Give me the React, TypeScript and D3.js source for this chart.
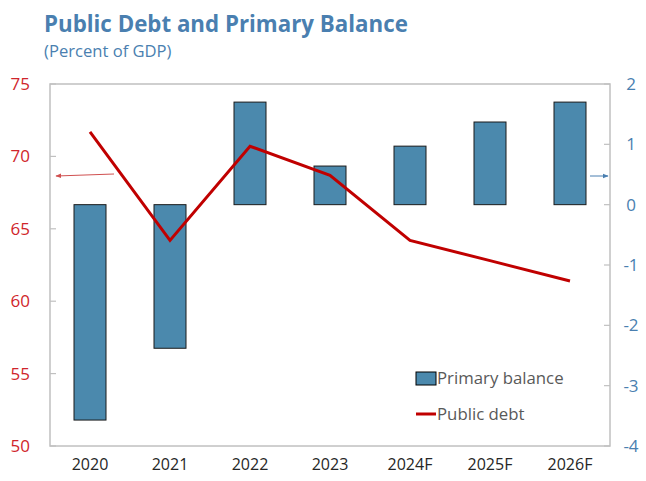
import React from "react";
import * as d3 from "d3";

const categories = ["2020", "2021", "2022", "2023", "2024F", "2025F", "2026F"];
const primaryBalance = [-3.57, -2.38, 1.7, 0.64, 0.97, 1.37, 1.7];
const publicDebt = [71.7, 64.2, 70.7, 68.7, 64.2, 62.8, 61.4];
const leftTicks = [50, 55, 60, 65, 70, 75];
const rightTicks = [-4, -3, -2, -1, 0, 1, 2];

const W = 646, H = 481;
const M = { left: 50, right: 610, top: 84, bottom: 446 };
const FONT = "'Open Sans', 'Noto Sans', sans-serif";
const BLUE = "#4a7fb0";
const RED = "#c00000";
const LABEL_RED = "#d0252b";

export default function App() {
  const x = d3.scaleBand<string>().domain(categories).range([M.left, M.right]).paddingInner(0).paddingOuter(0);
  const yL = d3.scaleLinear().domain([50, 75]).range([M.bottom, M.top]);
  const yR = d3.scaleLinear().domain([-4, 2]).range([M.bottom, M.top]);
  const barW = 32;
  const cx = (c: string) => (x(c) as number) + x.bandwidth() / 2;
  const line = d3.line<number>().x((_, i) => cx(categories[i])).y((d) => yL(d));

  return (
    <svg width={W} height={H} style={{ position: "absolute", left: 0, top: 0 }}>
      <rect width={W} height={H} fill="#fff" />
      <text x={44} y={32} fontFamily={FONT} fontWeight={700} fontSize={22.3} fill={BLUE}>
        Public Debt and Primary Balance
      </text>
      <text x={44} y={57} fontFamily={FONT} fontSize={16.6} fill={BLUE}>
        (Percent of GDP)
      </text>
      {/* frame */}
      <rect x={M.left} y={M.top} width={M.right - M.left} height={M.bottom - M.top} fill="none" stroke="#c0c0c0" strokeWidth={1.5} />
      {leftTicks.map((t) => (
        <g key={"l" + t}>
          <line x1={M.left} x2={M.left + 6} y1={yL(t)} y2={yL(t)} stroke="#c0c0c0" strokeWidth={1.2} />
          <text x={30} y={yL(t)} dy="0.35em" textAnchor="end" fontFamily={FONT} fontSize={17} fill={LABEL_RED}>{t}</text>
        </g>
      ))}
      {rightTicks.map((t) => (
        <g key={"r" + t}>
          <line x1={M.right - 6} x2={M.right} y1={yR(t)} y2={yR(t)} stroke="#c0c0c0" strokeWidth={1.2} />
          <text x={631} y={yR(t)} dy="0.35em" textAnchor="middle" fontFamily={FONT} fontSize={17} fill={BLUE}>{t}</text>
        </g>
      ))}
      {categories.map((c) => (
        <text key={"x" + c} x={cx(c)} y={470} textAnchor="middle" fontFamily={FONT} fontSize={16} fill="#262626">{c}</text>
      ))}
      {categories.map((c, i) => {
        const v = primaryBalance[i];
        const y0 = yR(0), y1 = yR(v);
        return (
          <rect key={"b" + c} x={cx(c) - barW / 2} y={Math.min(y0, y1)} width={barW} height={Math.abs(y1 - y0)}
            fill="#4b89ad" stroke="#1a1a1a" strokeWidth={1} />
        );
      })}
      <path d={line(publicDebt) as string} fill="none" stroke={RED} strokeWidth={3} />
      {/* axis arrows */}
      <defs>
        <marker id="arL" viewBox="0 0 10 10" refX={9} refY={5} markerWidth={6} markerHeight={6} orient="auto">
          <path d="M0,1 L10,5 L0,9 Z" fill="#d05050" />
        </marker>
        <marker id="arR" viewBox="0 0 10 10" refX={9} refY={5} markerWidth={6} markerHeight={6} orient="auto">
          <path d="M0,1 L10,5 L0,9 Z" fill={BLUE} />
        </marker>
      </defs>
      <line x1={114} y1={174} x2={56} y2={176} stroke="#d05050" strokeWidth={1} markerEnd="url(#arL)" />
      <line x1={590} y1={176} x2={608} y2={176} stroke={BLUE} strokeWidth={1} markerEnd="url(#arR)" />
      {/* legend */}
      <rect x={416} y={372} width={20} height={13} fill="#4b89ad" stroke="#000" strokeWidth={1} />
      <text x={437} y={384} fontFamily={FONT} fontSize={16.8} fill="#595959">Primary balance</text>
      <line x1={416} x2={436} y1={414} y2={414} stroke={RED} strokeWidth={3} />
      <text x={437} y={420} fontFamily={FONT} fontSize={16.8} fill="#595959">Public debt</text>
    </svg>
  );
}
